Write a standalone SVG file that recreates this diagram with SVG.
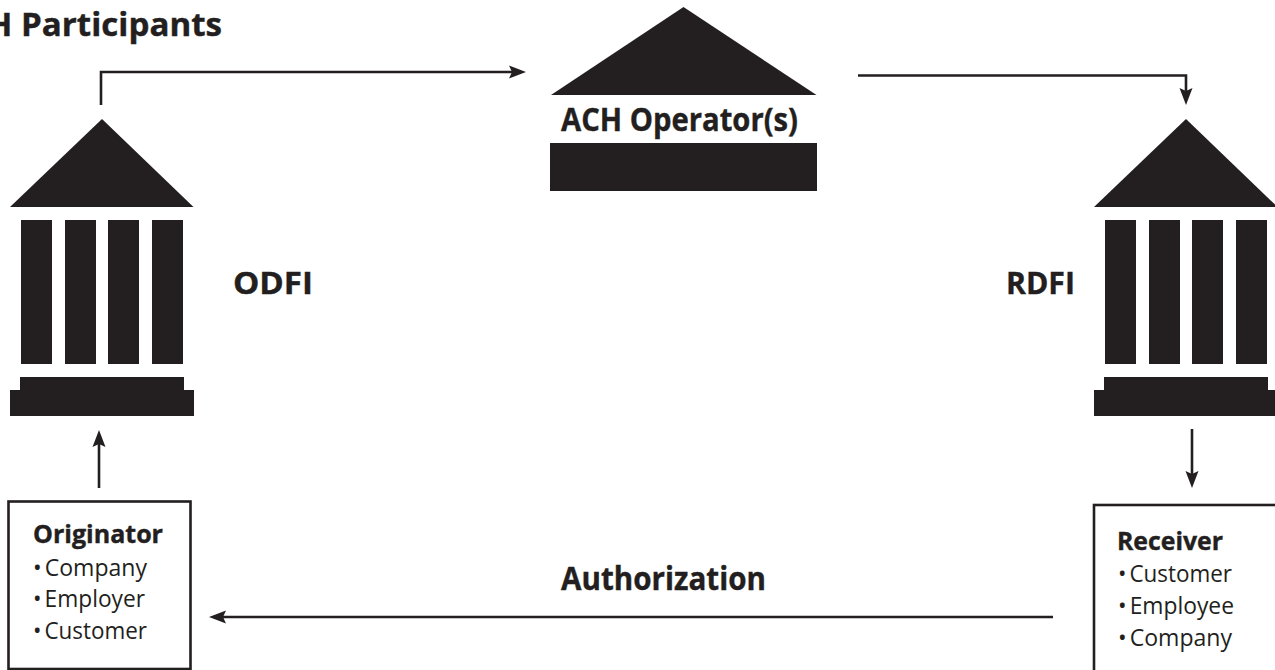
<svg xmlns="http://www.w3.org/2000/svg" width="1275" height="670" viewBox="0 0 1275 670">
<style>
.k{fill:#231f20}
.b{font-family:"Open Sans","Noto Sans",sans-serif;font-weight:700;fill:#231f20;stroke:#231f20;stroke-width:.4}
.r{font-family:"Open Sans","Noto Sans",sans-serif;font-weight:400;fill:#231f20;font-size:24px;word-spacing:-3px}
.c{fill:none;stroke:#231f20;stroke-width:2.6}
.box{fill:#fff;stroke:#231f20;stroke-width:2.6}
</style>
<defs>
<marker id="a" markerUnits="userSpaceOnUse" markerWidth="18" markerHeight="14" refX="9" refY="7" orient="auto"><path class="k" d="M0 .5L17 7L0 13.500L3 7Z"/></marker>
<g id="temple"><path class="k" d="M102 119L193.500 207H10Z"/><rect class="k" x="21" y="220" width="31" height="144"/><rect class="k" x="65" y="220" width="31" height="144"/><rect class="k" x="108" y="220" width="31" height="144"/><rect class="k" x="152" y="220" width="31" height="144"/><path class="k" d="M20 377H184V390H194V416H10V390H20Z"/></g>
</defs>
<rect width="1275" height="670" fill="#fff"/>
<g id="connectors">
<path class="c" d="M101 105V72H518" marker-end="url(#a)"/>
<path class="c" d="M858 75.500H1186V97" marker-end="url(#a)"/>
<path class="c" d="M99 488V438" marker-end="url(#a)"/>
<path class="c" d="M1192 429V480" marker-end="url(#a)"/>
<path class="c" d="M1053 617H217" marker-end="url(#a)"/>
</g>
<g id="title"><text class="b" x="-13" y="36" font-size="32" textLength="235" lengthAdjust="spacingAndGlyphs">H Participants</text></g>
<g id="odfi"><use href="#temple"/><text class="b" x="233" y="294" font-size="31" textLength="80" lengthAdjust="spacingAndGlyphs">ODFI</text></g>
<g id="operator"><path class="k" d="M683.500 7L816.500 95H551Z"/><rect class="k" x="550" y="143" width="267" height="48"/><text class="b" x="561" y="131" font-size="32" textLength="237" lengthAdjust="spacingAndGlyphs">ACH Operator(s)</text></g>
<g id="rdfi"><use href="#temple" x="1084"/><text class="b" x="1006" y="294" font-size="31" textLength="69" lengthAdjust="spacingAndGlyphs">RDFI</text></g>
<g id="originator"><rect class="box" x="8.500" y="501.500" width="182" height="167.500"/><text class="b" x="33" y="543" font-size="25" textLength="130" lengthAdjust="spacingAndGlyphs">Originator</text><text class="r" x="33" y="576" textLength="114" lengthAdjust="spacingAndGlyphs">• Company</text><text class="r" x="33" y="607" textLength="112" lengthAdjust="spacingAndGlyphs">• Employer</text><text class="r" x="33" y="639" textLength="114" lengthAdjust="spacingAndGlyphs">• Customer</text></g>
<g id="receiver"><rect class="box" x="1094" y="505" width="200" height="190"/><text class="b" x="1117" y="550" font-size="25" textLength="106" lengthAdjust="spacingAndGlyphs">Receiver</text><text class="r" x="1118" y="582" textLength="114" lengthAdjust="spacingAndGlyphs">• Customer</text><text class="r" x="1118" y="614" textLength="116" lengthAdjust="spacingAndGlyphs">• Employee</text><text class="r" x="1118" y="646" textLength="114" lengthAdjust="spacingAndGlyphs">• Company</text></g>
<g id="authorization"><text class="b" x="561" y="590" font-size="32" textLength="205" lengthAdjust="spacingAndGlyphs">Authorization</text></g>
</svg>
